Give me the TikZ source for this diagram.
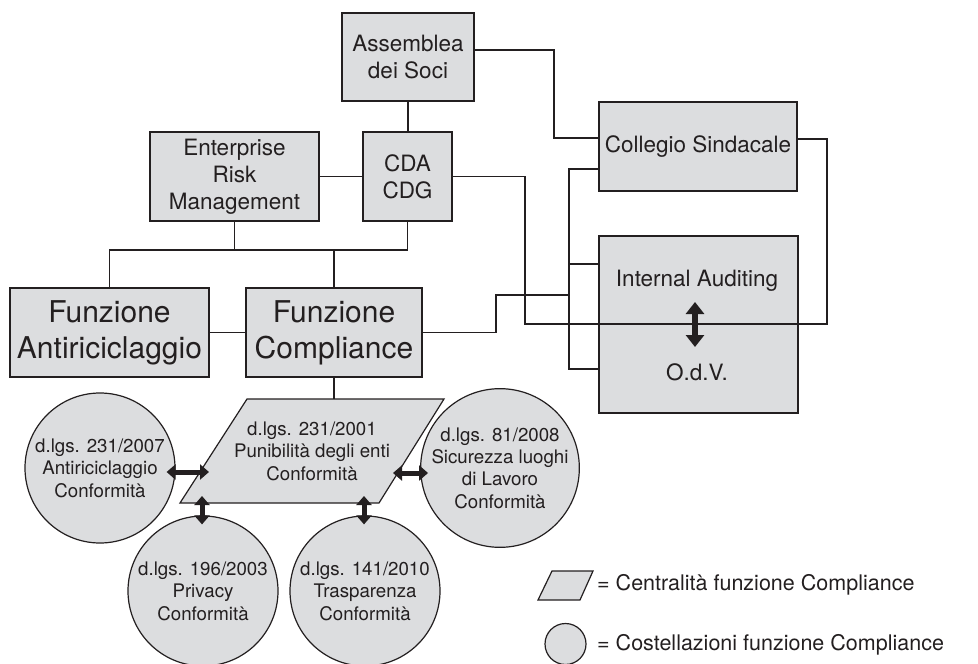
\documentclass[tikz,border=0pt]{standalone}
\usepackage{fontspec}
\setmainfont{TeX Gyre Heros}
\usetikzlibrary{arrows.meta}
\definecolor{boxfill}{HTML}{DCDDDF}
\definecolor{ink}{HTML}{231F20}
\begin{document}
\begin{tikzpicture}[x=1pt,y=-1pt,
  box/.style={draw=ink,fill=boxfill,line width=1.3pt,inner sep=0pt,align=center,text=ink,font=\fontsize{22.5}{27}\selectfont},
  bigbox/.style={box,font=\fontsize{30}{36}\selectfont},
  circ/.style={circle,draw=ink,fill=boxfill,line width=1.2pt,inner sep=0pt,align=center,text=ink,minimum size=150pt,font=\fontsize{18.7}{22.4}\selectfont},
  small/.style={inner sep=0pt,align=center,text=ink,font=\fontsize{18.7}{22.4}\selectfont},
  lbl/.style={inner sep=0pt,align=center,text=ink,font=\fontsize{22.5}{27}\selectfont},
  legend/.style={inner sep=0pt,anchor=west,text=ink,font=\fontsize{21.5}{25}\selectfont},
  conn/.style={draw=ink,line width=1.2pt},
  dbl/.style={draw=ink,line width=5pt,{Triangle[length=9pt,width=15pt]}-{Triangle[length=9pt,width=15pt]}},
  dblbig/.style={draw=ink,line width=6.5pt,{Triangle[length=12pt,width=18pt]}-{Triangle[length=12pt,width=18pt]}}
]
\useasboundingbox (0,0) rectangle (978,664);

% boxes
\node[box,minimum width=132pt,minimum height=88pt] (ass) at (408,57) {Assemblea\\dei Soci};
\node[box,minimum width=89pt,minimum height=89pt] (cda) at (407.5,176.5) {CDA\\CDG};
\node[box,minimum width=169pt,minimum height=89pt] (erm) at (234.5,176.5) {Enterprise\\Risk\\Management};
\node[box,minimum width=198pt,minimum height=89pt] (col) at (698,146.5) {Collegio Sindacale};
\node[box,minimum width=199pt,minimum height=177pt] (ia) at (698.5,324.5) {};
\node[bigbox,minimum width=199pt,minimum height=89pt] (anti) at (109.5,332.5) {Funzione\\Antiriciclaggio};
\node[bigbox,minimum width=176pt,minimum height=89pt] (comp) at (334,332.5) {Funzione\\Compliance};

% connectors
\coordinate (hb) at (0,250);
\draw[conn] (ass.south) -- (ass.south |- cda.north);
\draw[conn] ([yshift=7pt]ass.east) -| (554,138) -- ([yshift=8.5pt]col.west);
\draw[conn] (erm.east) -- (cda.west);
\draw[conn] (erm.south) -- (erm.south |- hb);
\draw[conn] (anti.north) |- (cda.south |- hb) -- (cda.south);
\draw[conn] (comp.north) -- (comp.north |- hb);
\draw[conn] (anti.east) -- (comp.west);
\draw[conn] (cda.east) -| (525,324) -| (827,139) -- ([yshift=7.5pt]col.east);
\draw[conn] ([yshift=-22.5pt]col.west) -| (569,369) -- ([yshift=-44.5pt]ia.west);
\draw[conn] (569,264) -- ([yshift=60.5pt]ia.west);
\draw[conn] (comp.east) -| (496,295) -- (569,295);

\node[lbl] (iat) at (697,281) {Internal Auditing};
\node[lbl] (odv) at (697,372) {O.d.V.};
\draw[dblbig] ([xshift=-2pt,yshift=-21pt]iat.center) -- ([xshift=-2pt,yshift=25pt]odv.center);

% parallelogram
\coordinate (pbl) at (180,503);
\coordinate (ptl) at (247,399);
\coordinate (ptr) at (444,399);
\coordinate (pbr) at (379,503);
\draw[conn] (comp.south) -- (comp.south |- ptl);
\draw[conn,fill=boxfill] (pbl) -- (ptl) -- (ptr) -- (pbr) -- cycle;
\node[small] (para) at (312,451) {d.lgs. 231/2001\\Punibilità degli enti\\Conformità};

% circles
\node[circ] (c1) at (100,468) {d.lgs. 231/2007\\Antiriciclaggio\\Conformità};
\node[circ] (c2) at (203,591) {d.lgs. 196/2003\\Privacy\\Conformità};
\node[circ] (c3) at (365,591) {d.lgs. 141/2010\\Trasparenza\\Conformità};
\node[circ,minimum size=140pt] (c4) at (500,468) {d.lgs. 81/2008\\Sicurezza luoghi\\di Lavoro\\Conformità};

% double arrows
\coordinate (ppl) at (209,472);
\coordinate (ppr) at (393,473);
\coordinate (pp2) at (202,496);
\coordinate (pp3) at (364,496);
\draw[dbl] ([xshift=-9pt,yshift=-4pt]c1.east) -- (ppl);
\draw[dbl] (ppr) -- ([xshift=8pt,yshift=-5pt]c4.west);
\draw[dbl] (pp2) -- ([xshift=-1pt,yshift=-9pt]c2.north);
\draw[dbl] (pp3) -- ([xshift=-1pt,yshift=-9pt]c3.north);

% legend
\draw[conn,fill=boxfill] (538,600) -- (552,571) -- (593,571) -- (580,600) -- cycle;
\node[circ,minimum size=41pt] (lc) at (565.5,644) {};
\node[legend] (l1) at (597,585) {= Centralità funzione Compliance};
\node[legend] (l2) at (597,645) {= Costellazioni funzione Compliance};
\end{tikzpicture}
\end{document}
